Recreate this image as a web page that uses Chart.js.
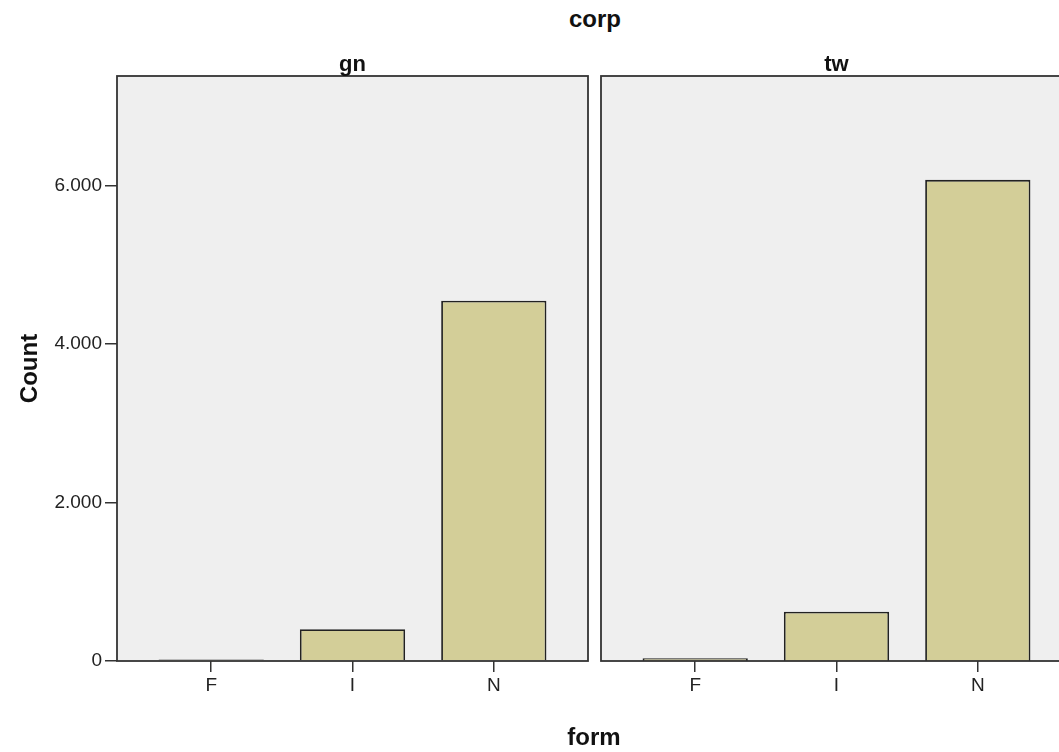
<!DOCTYPE html>
<html><head><meta charset="utf-8">
<script src="https://cdn.jsdelivr.net/npm/chart.js@4"></script>
<style>
html,body{margin:0;padding:0;width:1059px;height:752px;overflow:hidden;background:#fff;}
#wrap{position:relative;width:1059px;height:752px;overflow:hidden;}
canvas{position:absolute;top:0;}
#c1{left:0}
#c2{left:595px}
.t{position:absolute;font-family:'Liberation Sans',Arial,sans-serif;font-weight:bold;font-size:24px;line-height:28px;color:#111;text-align:center;width:200px;}
</style></head><body>
<div id="wrap">
<div class="t" style="left:495px;top:5px">corp</div>
<canvas id="c1" width="595" height="752"></canvas>
<canvas id="c2" width="484" height="752"></canvas>
<div class="t" style="left:494px;top:723px">form</div>
</div>
<script>
const categories = ['F', 'I', 'N'];
const panelTitles = ['gn', 'tw'];
const gnCounts = [18, 400, 4545];
const twCounts = [35, 622, 6070];
const yTickValues = [0, 2000, 4000, 6000];
const yTickLabels = ['0', '2.000', '4.000', '6.000'];
const yMax = 7380;

const FONT = "'Liberation Sans', Arial, sans-serif";

const panelPlugin = {
  id: 'panel',
  beforeDraw(chart) {
    const {ctx, chartArea: a} = chart;
    ctx.save();
    ctx.fillStyle = '#EFEFEF';
    ctx.fillRect(a.left, a.top, a.right - a.left, a.bottom - a.top);
    ctx.restore();
  },
  afterDraw(chart, args, opts) {
    const {ctx, chartArea: a} = chart;
    ctx.save();
    ctx.strokeStyle = '#333';
    ctx.lineWidth = 1.8;
    ctx.strokeRect(a.left, a.top, a.right - a.left, a.bottom - a.top);
    ctx.fillStyle = '#111';
    ctx.font = 'bold 22px ' + FONT;
    ctx.textAlign = 'center';
    ctx.textBaseline = 'alphabetic';
    ctx.fillText(opts.title, (a.left + a.right) / 2, a.top - 5);
    ctx.restore();
  }
};

function makePanel(id, title, counts, showY) {
  return new Chart(document.getElementById(id), {
    type: 'bar',
    data: {
      datasets: [{
        data: counts.map((v, i) => ({x: i, y: v})),
        backgroundColor: '#D3CE98',
        borderColor: '#222',
        borderWidth: 1.8,
        barPercentage: 0.745,
        categoryPercentage: 1
      }]
    },
    options: {
      responsive: false,
      animation: false,
      layout: {padding: {top: 76, right: 7, bottom: 0, left: showY ? 0 : 6}},
      plugins: {legend: {display: false}, tooltip: {enabled: false}, panel: {title: title}},
      scales: {
        x: {
          type: 'linear',
          min: -2 / 3,
          max: categories.length - 1 + 2 / 3,
          offset: false,
          afterBuildTicks: s => { s.ticks = categories.map((c, i) => ({value: i})); },
          afterFit: s => { s.height = 91; },
          grid: {offset: false, drawOnChartArea: false, drawTicks: true, tickLength: 11, color: '#333', lineWidth: 1.5},
          border: {display: false},
          ticks: {
            autoSkip: false, maxRotation: 0, padding: 2,
            color: '#222', font: {family: FONT, size: 19},
            callback: (v, i) => categories[i]
          }
        },
        y: {
          display: showY,
          min: 0,
          max: yMax,
          afterBuildTicks: s => { s.ticks = yTickValues.map(v => ({value: v})); },
          afterFit: s => { s.width = showY ? 117 : 0; },
          grid: {drawOnChartArea: false, drawTicks: true, tickLength: 12, color: '#333', lineWidth: 1.5},
          border: {display: false},
          ticks: {
            padding: 3, color: '#222', font: {family: FONT, size: 19},
            callback: (v, i) => yTickLabels[i]
          },
          title: {
            display: true, text: 'Count', color: '#111',
            font: {family: FONT, size: 24, weight: 'bold'},
            padding: {top: 16, bottom: 0}
          }
        }
      }
    },
    plugins: [panelPlugin]
  });
}

makePanel('c1', panelTitles[0], gnCounts, true);
makePanel('c2', panelTitles[1], twCounts, false);
</script>
</body></html>
